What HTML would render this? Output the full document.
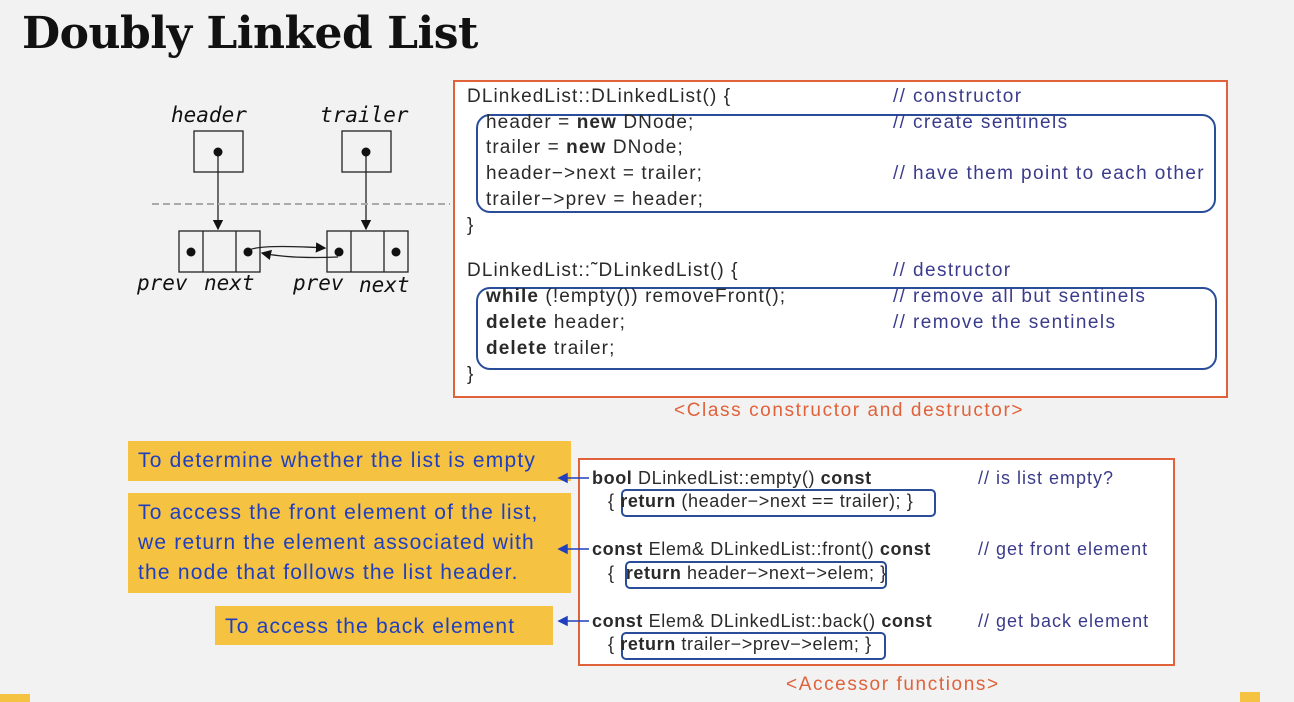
<!DOCTYPE html>
<html><head><meta charset="utf-8"><style>
body{margin:0;width:1294px;height:702px;background:#f2f2f2;position:relative;overflow:hidden;font-family:"Liberation Sans",sans-serif}
.a{position:absolute;white-space:nowrap}
.c{font-size:19px;color:#2a2a2a;line-height:20px;letter-spacing:1.1px}
.cm{font-size:19px;color:#3b3b8c;line-height:20px;letter-spacing:1.4px}
.c2{font-size:18px;color:#2a2a2a;line-height:20px;letter-spacing:0.6px}
.cm2{font-size:18px;color:#3b3b8c;line-height:20px;letter-spacing:1px}
.y{position:absolute;background:#f5c242;color:#1f3fbf;font-size:21px;line-height:30px;padding-left:10px;box-sizing:border-box;letter-spacing:1.2px}
.bx{position:absolute;border:2px solid #2a4d9a;border-radius:14px}
.sb{position:absolute;border:2px solid #2a4d9a;border-radius:5px}
</style></head><body>
<div class="a" style="left:22px;top:8px;font:bold 44px 'DejaVu Serif',serif;color:#111;letter-spacing:-0.5px">Doubly Linked List</div>

<svg class="a" style="left:0;top:0" width="460" height="300">
<defs><marker id="m" markerWidth="8" markerHeight="8" refX="7" refY="4" orient="auto"><path d="M0,0L8,4L0,8z" fill="#111"/></marker></defs>
<g font-family="DejaVu Sans Mono,monospace" font-style="italic" font-size="21" fill="#111">
<text x="171" y="122">header</text><text x="320" y="122">trailer</text>
<text x="137" y="290">prev</text><text x="204" y="290">next</text>
<text x="293" y="290">prev</text><text x="359" y="292">next</text></g>
<g stroke="#222" stroke-width="1.3" fill="none">
<rect x="194" y="131" width="49" height="41"/><rect x="342" y="131" width="49" height="41"/>
<rect x="179" y="231" width="81" height="41"/><line x1="203" y1="231" x2="203" y2="272"/><line x1="236" y1="231" x2="236" y2="272"/>
<rect x="327" y="231" width="81" height="41"/><line x1="351" y1="231" x2="351" y2="272"/><line x1="384" y1="231" x2="384" y2="272"/>
<line x1="218" y1="152" x2="218" y2="229" marker-end="url(#m)"/>
<line x1="366" y1="152" x2="366" y2="229" marker-end="url(#m)"/>
<path d="M248,251 Q255,244 325,248" marker-end="url(#m)"/>
<path d="M338,257 Q290,259 262,253" marker-end="url(#m)"/>
</g>
<line x1="152" y1="204" x2="450" y2="204" stroke="#aaa" stroke-width="2" stroke-dasharray="7,4"/>
<g fill="#111"><circle cx="218" cy="152" r="4.5"/><circle cx="366" cy="152" r="4.5"/><circle cx="191" cy="252" r="4.5"/><circle cx="248" cy="252" r="4.5"/><circle cx="339" cy="252" r="4.5"/><circle cx="396" cy="252" r="4.5"/></g>
</svg>

<div class="a" style="left:453px;top:80px;width:771px;height:314px;background:#fff;border:2px solid #e0623a"></div>
<div class="bx" style="left:476px;top:114px;width:736px;height:95px"></div>
<div class="bx" style="left:476px;top:287px;width:737px;height:79px"></div>
<div class="a c" style="left:467px;top:87px">DLinkedList::DLinkedList() {</div>
<div class="a c" style="left:486px;top:113px">header = <b>new</b> DNode;</div>
<div class="a c" style="left:486px;top:138px">trailer = <b>new</b> DNode;</div>
<div class="a c" style="left:486px;top:164px">header−&gt;next = trailer;</div>
<div class="a c" style="left:486px;top:190px">trailer−&gt;prev = header;</div>
<div class="a c" style="left:467px;top:216px">}</div>
<div class="a c" style="left:467px;top:261px">DLinkedList::˜DLinkedList() {</div>
<div class="a c" style="left:486px;top:287px"><b>while</b> (!empty()) removeFront();</div>
<div class="a c" style="left:486px;top:313px"><b>delete</b> header;</div>
<div class="a c" style="left:486px;top:339px"><b>delete</b> trailer;</div>
<div class="a c" style="left:467px;top:365px">}</div>
<div class="a cm" style="left:893px;top:87px">// constructor</div>
<div class="a cm" style="left:893px;top:113px">// create sentinels</div>
<div class="a cm" style="left:893px;top:164px">// have them point to each other</div>
<div class="a cm" style="left:893px;top:261px">// destructor</div>
<div class="a cm" style="left:893px;top:287px">// remove all but sentinels</div>
<div class="a cm" style="left:893px;top:313px">// remove the sentinels</div>
<div class="a" style="left:674px;top:400px;font-size:19px;color:#e0623a;letter-spacing:1.6px">&lt;Class constructor and destructor&gt;</div>

<div class="a" style="left:578px;top:458px;width:593px;height:204px;background:#fff;border:2px solid #e0623a"></div>
<div class="sb" style="left:621px;top:489px;width:311px;height:24px"></div>
<div class="sb" style="left:625px;top:561px;width:258px;height:24px"></div>
<div class="sb" style="left:621px;top:632px;width:261px;height:24px"></div>
<div class="a c2" style="left:592px;top:468px"><b>bool</b> DLinkedList::empty() <b>const</b></div>
<div class="a c2" style="left:608px;top:491px">{ <b>return</b> (header−&gt;next == trailer); }</div>
<div class="a c2" style="left:592px;top:539px"><b>const</b> Elem&amp; DLinkedList::front() <b>const</b></div>
<div class="a c2" style="left:608px;top:563px">{ &nbsp;<b>return</b> header−&gt;next−&gt;elem; }</div>
<div class="a c2" style="left:592px;top:611px"><b>const</b> Elem&amp; DLinkedList::back() <b>const</b></div>
<div class="a c2" style="left:608px;top:634px">{ <b>return</b> trailer−&gt;prev−&gt;elem; }</div>
<div class="a cm2" style="left:978px;top:468px">// is list empty?</div>
<div class="a cm2" style="left:978px;top:539px">// get front element</div>
<div class="a cm2" style="left:978px;top:611px">// get back element</div>
<div class="a" style="left:786px;top:674px;font-size:19px;color:#e0623a;letter-spacing:1.6px">&lt;Accessor functions&gt;</div>

<div class="y" style="left:128px;top:441px;width:443px;height:40px;line-height:40px">To determine whether the list is empty</div>
<div class="y" style="left:128px;top:493px;width:443px;height:100px;padding-top:5px">To access the front element of the list,<br>we return the element associated with<br>the node that follows the list header.</div>
<div class="y" style="left:215px;top:606px;width:338px;height:39px;line-height:41px">To access the back element</div>
<svg class="a" style="left:555px;top:465px" width="40" height="170">
<g stroke="#1f3fbf" stroke-width="1.5" fill="#1f3fbf">
<line x1="10" y1="13" x2="34" y2="13"/><path d="M4,13L12,9L12,17z"/>
<line x1="10" y1="84" x2="34" y2="84"/><path d="M4,84L12,80L12,88z"/>
<line x1="10" y1="156" x2="34" y2="156"/><path d="M4,156L12,152L12,160z"/>
</g></svg>
<div class="a" style="left:0;top:694px;width:30px;height:8px;background:#f5c242"></div>
<div class="a" style="left:1240px;top:692px;width:20px;height:10px;background:#f5c242"></div>
</body></html>
